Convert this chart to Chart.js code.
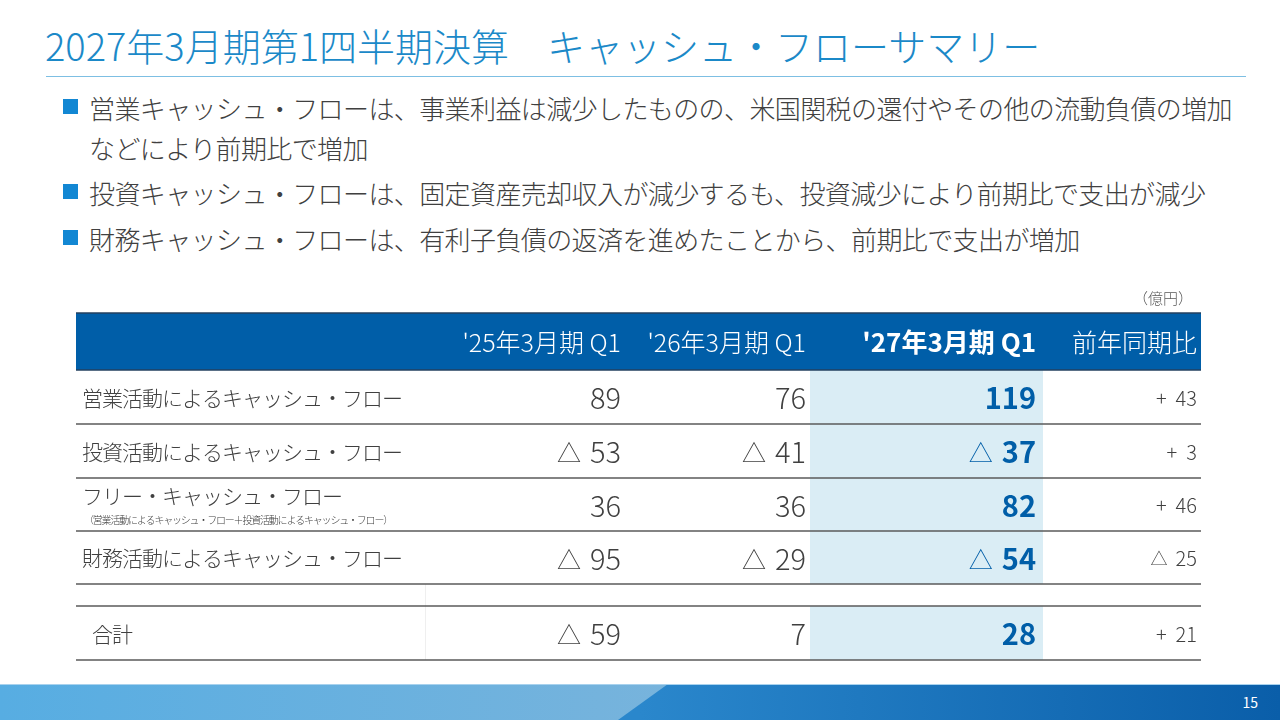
<!DOCTYPE html>
<html lang="ja">
<head>
<meta charset="utf-8">
<script src="https://cdn.jsdelivr.net/npm/chart.js@4.4.1/dist/chart.umd.min.js"></script>
<style>
html,body{margin:0;padding:0;background:#fff;width:1280px;height:720px;overflow:hidden;font-family:"Noto Sans CJK JP","Noto Sans",sans-serif;}
#title{position:absolute;left:45px;top:18px;font-size:38px;font-weight:300;line-height:54px;color:#1b89c8;white-space:nowrap;letter-spacing:0px;}
#rule{position:absolute;left:46px;top:76px;width:1200px;height:1px;background:#7dbfe3;}
.b{position:absolute;left:89px;font-size:26px;font-weight:300;line-height:40px;color:#404040;white-space:nowrap;letter-spacing:-0.6px;}
.sq{position:absolute;left:63px;width:15px;height:15px;background:#1287d3;}
#wrap{position:absolute;left:0;top:280px;width:1280px;height:390px;}
#foot{position:absolute;left:0;top:684px;width:1280px;height:36px;overflow:hidden;}
#footL{position:absolute;left:0;top:0;width:700px;height:36px;background:linear-gradient(to right,#57ade2,#79b4dc);}
#footR{position:absolute;left:0;top:0;width:1280px;height:36px;background:linear-gradient(to right,#2a87cc 50%,#0a5ea9 100%);clip-path:polygon(668px 0,1280px 0,1280px 36px,618px 36px);}
#footLine{position:absolute;left:0;top:0;width:1280px;height:1px;background:#a8d2ee;}
#page{position:absolute;right:22px;top:0;line-height:36px;font-size:14px;color:#fff;}
</style>
</head>
<body>
<div id="title">2027年3月期第1四半期決算　キャッシュ・フローサマリー</div>
<div id="rule"></div>

<div class="sq" style="top:99px"></div>
<div class="b" style="top:88px">営業キャッシュ・フローは、事業利益は減少したものの、米国関税の還付やその他の流動負債の増加</div>
<div class="b" style="top:128px">などにより前期比で増加</div>
<div class="sq" style="top:184px"></div>
<div class="b" style="top:173px">投資キャッシュ・フローは、固定資産売却収入が減少するも、投資減少により前期比で支出が減少</div>
<div class="sq" style="top:230px"></div>
<div class="b" style="top:219px">財務キャッシュ・フローは、有利子負債の返済を進めたことから、前期比で支出が増加</div>

<div id="wrap"><canvas id="c"></canvas></div>

<div id="foot">
  <div id="footL"></div>
  <div id="footR"></div>
  <div id="footLine"></div>
  <div id="page">15</div>
</div>

<script>
// ---- data ----
const unitLabel = "（億円）";
const columns = ["'25年3月期 Q1", "'26年3月期 Q1", "'27年3月期 Q1", "前年同期比"];
const rowLabels = ["営業活動によるキャッシュ・フロー", "投資活動によるキャッシュ・フロー", "フリー・キャッシュ・フロー", "財務活動によるキャッシュ・フロー", "合計"];
const rowNotes = ["", "", "（営業活動によるキャッシュ・フロー＋投資活動によるキャッシュ・フロー）", "", ""];
const fy25Q1 = [89, -53, 36, -95, -59];
const fy26Q1 = [76, -41, 36, -29, 7];
const fy27Q1 = [119, -37, 82, -54, 28];
const yoyChange = [43, 3, 46, -25, 21];

// ---- layout (table units) ----
const colEdges = [0, 349, 549, 734, 967, 1125];
const rowEdges = [0, 57, 111, 165, 218, 271, 293, 347];
const bodyBands = [1, 2, 3, 4, 6];        // band index of each body row
const colPad = [4, 4, 7, 4];
const series = [fy25Q1, fy26Q1, fy27Q1, yoyChange];

const headerBg = '#005ea8';
const highlightBg = '#daedf5';
const textColor = '#404040';
const blue = '#005ea8';
const FONT = '"Noto Sans CJK JP", "Noto Sans", sans-serif';

const bandCenter = b => (rowEdges[b] + rowEdges[b + 1]) / 2;

const datasets = series.map((vals, i) => ({
  label: columns[i],
  data: vals.map((v, r) => ({ x: colEdges[i + 2] - colPad[i], y: bandCenter(bodyBands[r]) + 1 })),
  pointRadius: 0, showLine: false
}));
datasets.push({
  label: 'rows',
  data: rowLabels.map((l, r) => ({ x: r === 4 ? 16 : 6, y: bandCenter(bodyBands[r]) + 1 })),
  pointRadius: 0, showLine: false
});

const tablePlugin = {
  id: 'table',
  beforeDatasetsDraw(chart) {
    const { ctx, scales: { x, y } } = chart;
    const X = v => x.getPixelForValue(v), Y = v => y.getPixelForValue(v);
    ctx.save();
    ctx.fillStyle = headerBg;
    ctx.fillRect(X(0), Y(rowEdges[0]), X(colEdges[5]) - X(0), Y(rowEdges[1]) - Y(rowEdges[0]));
    ctx.fillStyle = highlightBg;
    [[1, 5], [6, 7]].forEach(([a, b]) => {
      ctx.fillRect(X(colEdges[3]), Y(rowEdges[a]), X(colEdges[4]) - X(colEdges[3]), Y(rowEdges[b]) - Y(rowEdges[a]));
    });
    ctx.strokeStyle = '#efefef';
    ctx.lineWidth = 1;
    ctx.beginPath();
    ctx.moveTo(X(colEdges[1]) + 0.5, Y(rowEdges[5]));
    ctx.lineTo(X(colEdges[1]) + 0.5, Y(rowEdges[7]));
    ctx.stroke();
    ctx.strokeStyle = '#23405f';
    ctx.lineWidth = 1.5;
    [0, 1].forEach(i => {
      ctx.beginPath();
      ctx.moveTo(X(0), Y(rowEdges[i]));
      ctx.lineTo(X(colEdges[5]), Y(rowEdges[i]));
      ctx.stroke();
    });
    ctx.strokeStyle = '#5a5a5a';
    ctx.lineWidth = 1.6;
    [2, 3, 4, 5, 6, 7].forEach(i => {
      ctx.beginPath();
      ctx.moveTo(X(0), Y(rowEdges[i]));
      ctx.lineTo(X(colEdges[5]), Y(rowEdges[i]));
      ctx.stroke();
    });
    ctx.restore();
  },
  afterDatasetsDraw(chart) {
    const { ctx, scales: { x, y } } = chart;
    const X = v => x.getPixelForValue(v), Y = v => y.getPixelForValue(v);
    ctx.save();
    ctx.textBaseline = 'middle';
    ctx.fillStyle = '#595959';
    ctx.textAlign = 'right';
    ctx.font = '300 15px ' + FONT;
    ctx.fillText(unitLabel, X(1117), Y(-15));
    // header labels
    ctx.fillStyle = '#ffffff';
    columns.forEach((c, i) => {
      ctx.font = (i === 2 ? 'bold 26px ' : '300 25px ') + FONT;
      ctx.fillText(c, X(colEdges[i + 2] - colPad[i]), Y(bandCenter(0) + 1));
    });
    // values
    series.forEach((vals, i) => {
      const meta = chart.getDatasetMeta(i);
      vals.forEach((v, r) => {
        const pt = meta.data[r];
        ctx.textAlign = 'right';
        const small = i === 3;
        const color = i === 2 ? blue : textColor;
        ctx.fillStyle = color;
        ctx.font = (i === 2 ? 'bold 29px ' : small ? '300 20px ' : '300 29px ') + FONT;
        const num = String(Math.abs(v));
        ctx.fillText(num, pt.x, pt.y);
        const w = ctx.measureText(num).width;
        if (v < 0) {
          ctx.font = (small ? '300 17px ' : '300 24px ') + FONT;
          ctx.fillText('△', pt.x - w - (small ? 8 : 9), pt.y + (small ? 0 : 1));
        } else if (small) {
          ctx.font = '300 20px ' + FONT;
          ctx.fillText('+', pt.x - w - 9, pt.y);
        }
      });
    });
    // row labels
    const lmeta = chart.getDatasetMeta(series.length);
    ctx.textAlign = 'left';
    ctx.fillStyle = textColor;
    rowLabels.forEach((l, r) => {
      const pt = lmeta.data[r];
      ctx.font = '300 21px ' + FONT;
      ctx.letterSpacing = '-1px';
      if (rowNotes[r]) {
        ctx.fillText(l, pt.x, pt.y - 9);
        ctx.font = '300 10px ' + FONT;
        ctx.letterSpacing = '-1.2px';
        ctx.fillText(rowNotes[r], pt.x + 2, pt.y + 15);
      } else {
        ctx.fillText(l, pt.x, pt.y);
      }
      ctx.letterSpacing = '0px';
    });
    ctx.restore();
  }
};

new Chart(document.getElementById('c'), {
  type: 'scatter',
  data: { datasets },
  options: {
    responsive: true,
    maintainAspectRatio: false,
    animation: false,
    events: [],
    layout: { padding: { left: 76, right: 79, top: 33, bottom: 10 } },
    plugins: { legend: { display: false }, tooltip: { enabled: false } },
    scales: {
      x: { type: 'linear', min: colEdges[0], max: colEdges[colEdges.length - 1], display: false },
      y: { type: 'linear', min: rowEdges[0], max: rowEdges[rowEdges.length - 1], reverse: true, display: false }
    }
  },
  plugins: [tablePlugin]
});
</script>
</body>
</html>
